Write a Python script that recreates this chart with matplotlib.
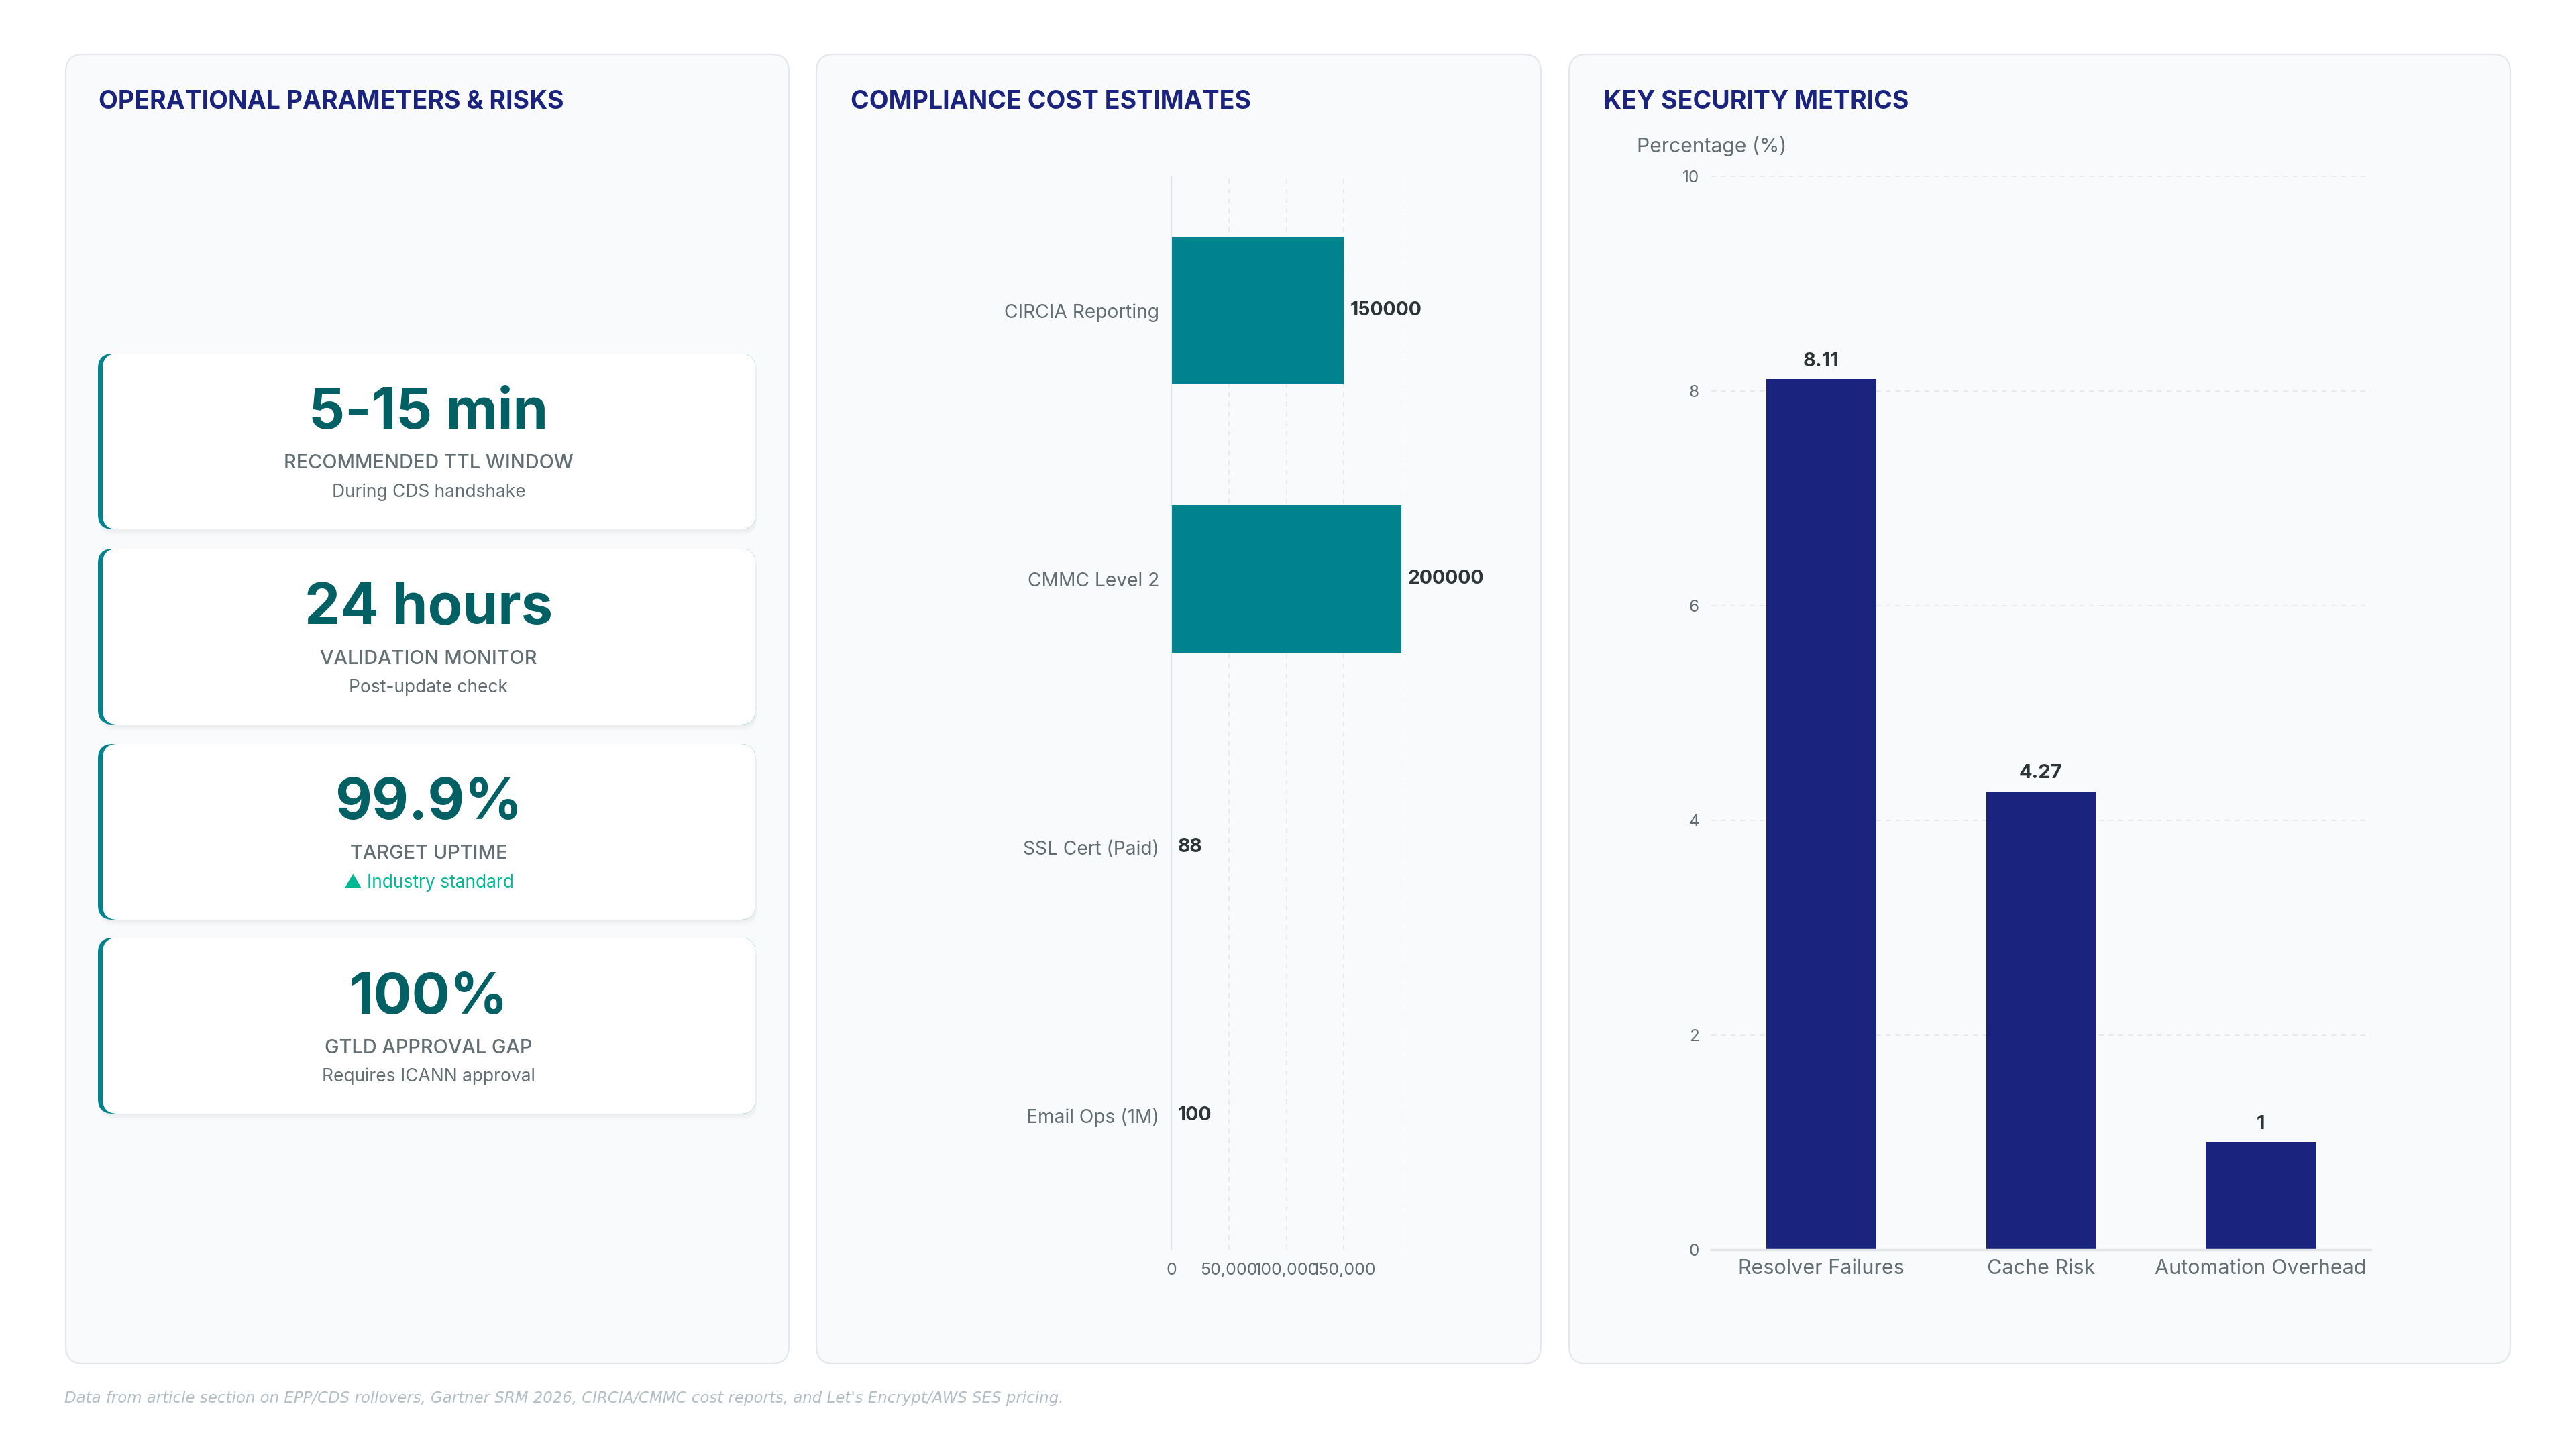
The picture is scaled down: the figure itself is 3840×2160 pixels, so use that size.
import numpy as np
import matplotlib
matplotlib.use('Agg')
import matplotlib.pyplot as plt
from matplotlib.patches import FancyBboxPatch

plt.rcParams['font.family'] = ['Inter', 'DejaVu Sans']

# ---------------------------------------------------------------- data
kpi_values = ['5-15 min', '24 hours', '99.9%', '100%']
kpi_labels = ['RECOMMENDED TTL WINDOW', 'VALIDATION MONITOR', 'TARGET UPTIME', 'GTLD APPROVAL GAP']
kpi_notes = ['During CDS handshake', 'Post-update check', '▲ Industry standard', 'Requires ICANN approval']
kpi_note_up = [False, False, True, False]

cost_items = ['CIRCIA Reporting', 'CMMC Level 2', 'SSL Cert (Paid)', 'Email Ops (1M)']
cost_values = [150000, 200000, 88, 100]
cost_ticks = [0, 50000, 100000, 150000, 200000]
cost_tick_labels = ['0', '50,000', '100,000', '150,000', '']

metric_names = ['Resolver Failures', 'Cache Risk', 'Automation Overhead']
metric_values = [8.11, 4.27, 1]
metric_ticks = [0, 2, 4, 6, 8, 10]

footer = ("Data from article section on EPP/CDS rollovers, Gartner SRM 2026, "
          "CIRCIA/CMMC cost reports, and Let's Encrypt/AWS SES pricing.")

# colours
NAVY = '#1a237e'
TEAL = '#00838f'
TEAL_DARK = '#006064'
GRAY = '#636e72'
DARK = '#2d3436'
GREEN = '#00b894'
GRID = '#e6e9ec'

# ---------------------------------------------------------------- canvas
W, H = 3840, 2160
fig = plt.figure(figsize=(W / 100, H / 100), dpi=100)
fig.patch.set_facecolor('white')

bg = fig.add_axes([0, 0, 1, 1])
bg.set_xlim(0, W)
bg.set_ylim(H, 0)
bg.axis('off')


def box(x0, y0, x1, y1, r, **kw):
    p = FancyBboxPatch((x0, y0), x1 - x0, y1 - y0,
                       boxstyle='round,pad=0,rounding_size=%d' % r, **kw)
    bg.add_patch(p)


# panels
panels = [(98, 81, 1176, 2033), (1217, 81, 2297, 2033), (2339, 81, 3742, 2033)]
titles = ['OPERATIONAL PARAMETERS & RISKS', 'COMPLIANCE COST ESTIMATES', 'KEY SECURITY METRICS']
title_x = [147, 1268, 2390]
for (x0, y0, x1, y1), t, tx in zip(panels, titles, title_x):
    box(x0, y0, x1, y1, 26, fc='#f9fafc', ec='#e4e7eb', lw=1.6)
    bg.text(tx, 152, t, fontsize=27, weight='bold', color=NAVY, va='center', ha='left')

# ---------------------------------------------------------------- KPI cards
card_tops = [527, 818, 1109, 1398]
card_h = 262
cx0, cx1 = 146, 1126
for top, val, lab, note, up in zip(card_tops, kpi_values, kpi_labels, kpi_notes, kpi_note_up):
    for k in range(4):
        box(cx0 + 2, top + 3 + 2 * k, cx1 + 2, top + card_h + 3 + 2 * k, 22,
            fc='#1e2a3a', ec='none', alpha=0.012)
    box(cx0, top, cx1, top + card_h, 22, fc=TEAL, ec='none')
    box(cx0 + 7, top, cx1, top + card_h, 22, fc='white', ec='none')
    mid = (cx0 + cx1) / 2 + 3
    bg.text(mid, top + 90, val, fontsize=61, weight='bold', color=TEAL_DARK,
            ha='center', va='center')
    bg.text(mid, top + 164, lab, fontsize=20.8, weight='medium', color=GRAY,
            ha='center', va='center')
    bg.text(mid, top + 207, note, fontsize=19, color=GREEN if up else GRAY,
            ha='center', va='center')

# ---------------------------------------------------------------- cost chart
ax2 = fig.add_axes([1746 / W, 1 - 1863 / H, 343 / W, 1600 / H])
ax2.set_facecolor('none')
yy = np.arange(len(cost_items))
ax2.barh(yy, cost_values, height=0.55, color=TEAL, zorder=2)
ax2.set_xlim(0, 200000)
ax2.set_ylim(len(cost_items) - 0.5, -0.5)
ax2.set_yticks(yy, cost_items)
ax2.set_xticks(cost_ticks, cost_tick_labels)
ax2.tick_params(axis='y', length=0, pad=13, labelsize=20.3, labelcolor=GRAY)
ax2.tick_params(axis='x', length=0, pad=14, labelsize=18, labelcolor=GRAY)
ax2.grid(axis='x', color=GRID, ls=(0, (4, 4)), lw=1.3)
ax2.set_axisbelow(True)
for s in ['top', 'right', 'bottom']:
    ax2.spines[s].set_visible(False)
ax2.spines['left'].set_color('#dde2e6')
ax2.spines['left'].set_linewidth(1.5)
for i, v in enumerate(cost_values):
    ax2.annotate(str(v), (v, i), xytext=(7, 0), textcoords='offset points',
                 ha='left', va='center', fontsize=20.5, weight='bold', color=DARK)

# ---------------------------------------------------------------- metrics chart
ax3 = fig.add_axes([2551 / W, 1 - 1863 / H, 983 / W, 1600 / H])
ax3.set_facecolor('none')
xx = np.arange(len(metric_names))
ax3.bar(xx, metric_values, width=0.5, color=NAVY, zorder=2)
ax3.set_ylim(0, 10)
ax3.set_xlim(-0.5, len(metric_names) - 0.5)
ax3.set_xticks(xx, metric_names)
ax3.set_yticks(metric_ticks)
ax3.tick_params(axis='y', length=0, pad=13, labelsize=17.5, labelcolor=GRAY)
ax3.tick_params(axis='x', length=0, pad=10, labelsize=22, labelcolor=GRAY)
ax3.grid(axis='y', color=GRID, ls=(0, (4, 4)), lw=1.3)
ax3.set_axisbelow(True)
for s in ['top', 'right', 'left']:
    ax3.spines[s].set_visible(False)
ax3.spines['bottom'].set_color('#e1e5e8')
ax3.spines['bottom'].set_linewidth(2.5)
for i, v in enumerate(metric_values):
    ax3.annotate('%g' % v, (i, v), xytext=(0, 10), textcoords='offset points',
                 ha='center', va='bottom', fontsize=21, weight='bold', color=DARK)
bg.text(2440, 218, 'Percentage (%)', fontsize=21.7, color=GRAY, ha='left', va='center')

# ---------------------------------------------------------------- footer
bg.text(96, 2084, footer, fontsize=16.5, style='italic', color='#b2bec3',
        family='DejaVu Sans', ha='left', va='center')

fig.savefig('out.png', dpi=100, facecolor='white')
